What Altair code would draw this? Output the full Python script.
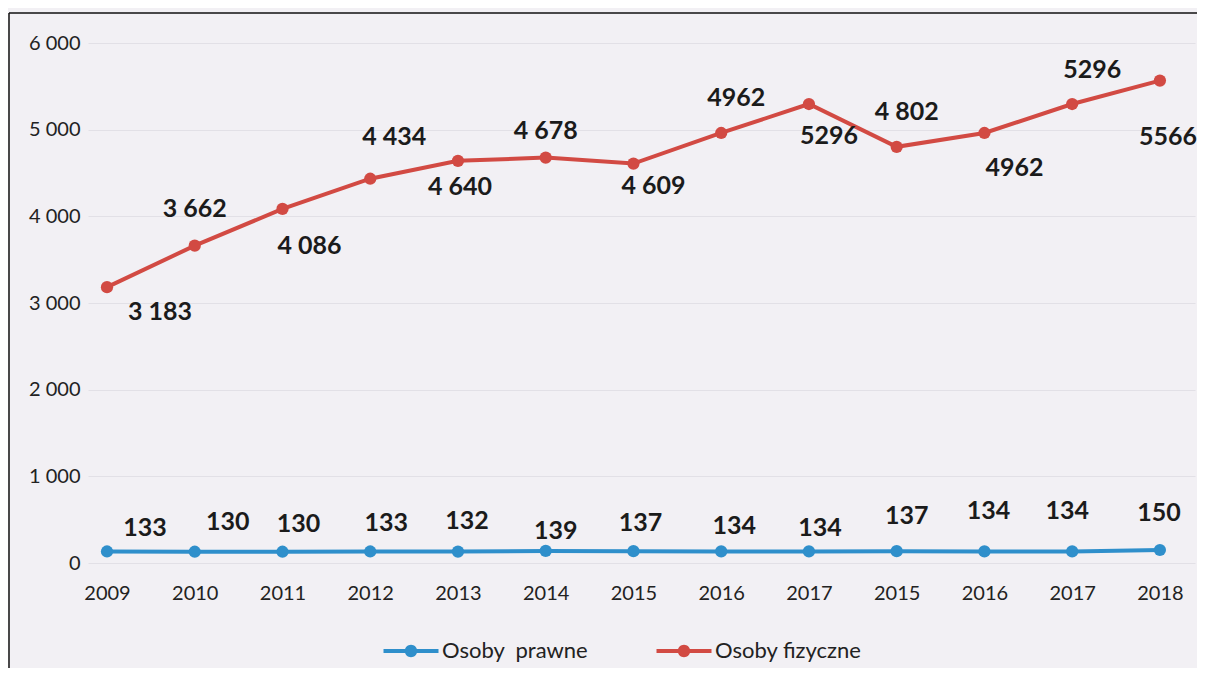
import altair as alt
import pandas as pd

# ---- data ----
YEARS = ["2009", "2010", "2011", "2012", "2013", "2014", "2015", "2016", "2017",
         "2015", "2016", "2017", "2018"]
PRAWNE = [133, 130, 130, 133, 132, 139, 137, 134, 134, 137, 134, 134, 150]
FIZYCZNE = [3183, 3662, 4086, 4434, 4640, 4678, 4609, 4962, 5296, 4802, 4962, 5296, 5566]
FIZ_LABELS = ["3 183", "3 662", "4 086", "4 434", "4 640", "4 678", "4 609",
              "4962", "5296", "4 802", "4962", "5296", "5566"]
PRAW_LABELS = ["133", "130", "130", "133", "132", "139", "137", "134", "134",
               "137", "134", "134", "150"]
SERIES = ["Osoby\u00a0 prawne", "Osoby fizyczne"]

# ---- label placement (styling only: pixel offsets of value labels) ----
FIZ_DX = [53, 0, 27, 24, 2, 0, 20, 15, 20, 10, 30, 20, 8]
FIZ_DY = [25, -37, 37, -42, 26, -27, 22, -35, 32, -35, 35, -34, 56]
PRAW_DX = [38, 33, 16, 16, 9, 10, 7, 13, 11, 10, 4, -5, -1]
PRAW_DY = [-23, -30, -28, -28, -31, -20, -28, -25, -23, -35, -40, -40, -37]

BLUE = "#2f8fcb"
RED = "#d24a43"
BG = "#f2f0f4"
FONT = "Lato"

rows = []
for i, yr in enumerate(YEARS):
    rows.append(dict(idx=i, year=yr, series=SERIES[0], value=PRAWNE[i],
                     label=PRAW_LABELS[i], ldx=PRAW_DX[i], ldy=PRAW_DY[i]))
for i, yr in enumerate(YEARS):
    rows.append(dict(idx=i, year=yr, series=SERIES[1], value=FIZYCZNE[i],
                     label=FIZ_LABELS[i], ldx=FIZ_DX[i], ldy=FIZ_DY[i]))
df = pd.DataFrame(rows)

year_arr = "[" + ",".join("'" + y + "'" for y in YEARS) + "]"

x = alt.X("idx:Q",
          scale=alt.Scale(domain=[-0.2165, 12.40], nice=False, zero=False),
          axis=alt.Axis(values=list(range(len(YEARS))),
                        labelExpr=year_arr + "[datum.value]",
                        domain=False, ticks=False, grid=False, title=None,
                        labelFont=FONT, labelFontSize=20, labelColor="#222222",
                        labelPadding=20, labelOverlap=False, labelFlush=False))
y = alt.Y("value:Q",
          scale=alt.Scale(domain=[0, 6000], nice=False),
          axis=alt.Axis(values=[0, 1000, 2000, 3000, 4000, 5000, 6000],
                        labelExpr="replace(format(datum.value, ','), ',', ' ')",
                        domain=False, ticks=False, grid=True,
                        gridColor="#e2e0e6", gridWidth=1, title=None,
                        labelFont=FONT, labelFontSize=20, labelColor="#222222",
                        labelPadding=8))

color_scale = alt.Scale(domain=SERIES, range=[BLUE, RED])

LEG_PATH = ("M-2.75,-0.2 L2.75,-0.2 L2.75,0.2 L-2.75,0.2 Z "
            "M0.62,0 A0.62,0.62 0 1,1 -0.62,0 A0.62,0.62 0 1,1 0.62,0 Z")

legend = alt.Legend(title=None, orient="none", direction="horizontal",
                    legendX=312, legendY=597,
                    symbolType=LEG_PATH, symbolSize=400,
                    symbolStrokeWidth=0, symbolOpacity=1,
                    labelFont=FONT, labelFontSize=22,
                    labelColor="#222222", labelOffset=20,
                    columnPadding=68, padding=0)

color = alt.Color("series:N", scale=color_scale, legend=legend)

base = alt.Chart(df)

line = base.mark_line(strokeWidth=4).encode(x=x, y=y, color=color)

points = base.mark_circle(size=150, opacity=1).encode(x=x, y=y, color=color)

labels = base.mark_text(font=FONT, fontSize=25, fontWeight="bold",
                        color="#1b1b1b", align="center", baseline="middle",
                        dx={"expr": "datum.ldx"}, dy={"expr": "datum.ldy"}).encode(
    x=x, y=y, text="label:N")

one = alt.Chart(pd.DataFrame({"a": [0]}))
left_border = one.mark_rule(color="#111111", strokeWidth=1.5).encode(
    x=alt.value(-79), y=alt.value(-30), y2=alt.value(640))
top_border = one.mark_rule(color="#111111", strokeWidth=1.5).encode(
    x=alt.value(-79), x2=alt.value(1120), y=alt.value(-30))

chart = alt.layer(line, points, labels, left_border, top_border).properties(
    width=1107, height=520,
    padding={"left": 80, "top": 35, "right": 2, "bottom": 105},
    autosize=alt.AutoSizeParams(type="none"),
    background=BG,
).configure_view(strokeWidth=0)

chart.save("out.html", embed_options={"renderer": "svg", "actions": False})
